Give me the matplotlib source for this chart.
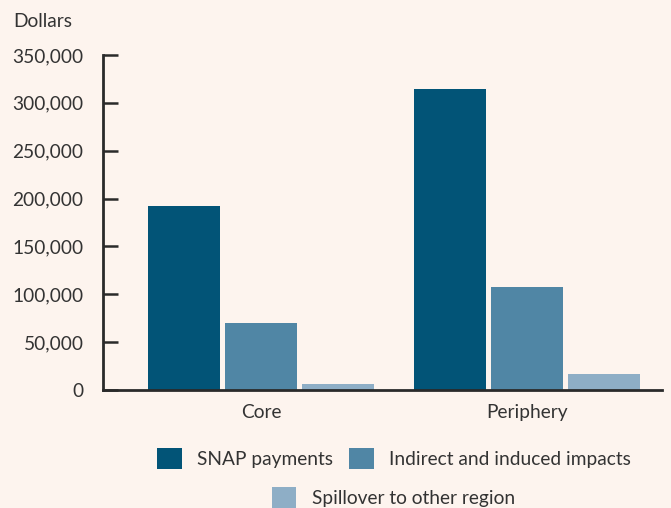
import numpy as np
import matplotlib.pyplot as plt
from matplotlib.patches import Patch

plt.rcParams['font.family'] = ['Lato', 'DejaVu Sans']

categories = ['Core', 'Periphery']
series_names = ['SNAP payments', 'Indirect and induced impacts', 'Spillover to other region']
snap = [192000, 314000]
indirect = [70000, 108000]
spillover = [6000, 17000]
colors = ['#025477', '#5086a5', '#8eaec6']
bg = '#fdf4ee'

fig = plt.figure(figsize=(6.71, 5.08), dpi=100, facecolor=bg)
ax = fig.add_axes([0.1535, 0.2323, 0.8331, 0.6594], facecolor=bg)

x = np.arange(len(categories))
step = 0.29
width = 0.27
for i, vals in enumerate([snap, indirect, spillover]):
    ax.bar(x + (i - 1) * step, vals, width, color=colors[i], label=series_names[i], zorder=2)

ax.set_xlim(-0.594, 1.508)
ax.set_ylim(0, 350000)
ax.set_yticks(np.arange(0, 350001, 50000))
ax.set_yticklabels([f'{v:,}' for v in range(0, 350001, 50000)])
ax.set_xticks(x)
ax.set_xticklabels(categories)

for s in ['top', 'right']:
    ax.spines[s].set_visible(False)
for s in ['left', 'bottom']:
    ax.spines[s].set_color('#2a2a2a')
    ax.spines[s].set_linewidth(2)

ax.tick_params(axis='y', direction='in', length=11, width=1.8, color='#2a2a2a',
               labelsize=13.8, labelcolor='#333333', pad=14)
ax.tick_params(axis='x', length=0, labelsize=13.8, labelcolor='#333333', pad=10)

fig.text(0.02, 0.957, 'Dollars', fontsize=13.8, color='#333333', ha='left', va='center')

h = [Patch(facecolor=c) for c in colors]
leg1 = fig.legend(h[:2], series_names[:2], loc='center', bbox_to_anchor=(0.587, 0.098),
                  ncol=2, frameon=False, fontsize=13.8, handlelength=1.3, handleheight=1.3,
                  handletextpad=0.8, columnspacing=0.8, labelcolor='#333333')
leg2 = fig.legend(h[2:], series_names[2:], loc='center', bbox_to_anchor=(0.586, 0.02),
                  frameon=False, fontsize=13.8, handlelength=1.3, handleheight=1.3,
                  handletextpad=0.8, labelcolor='#333333')

fig.savefig('out.png', dpi=100, facecolor=bg)
